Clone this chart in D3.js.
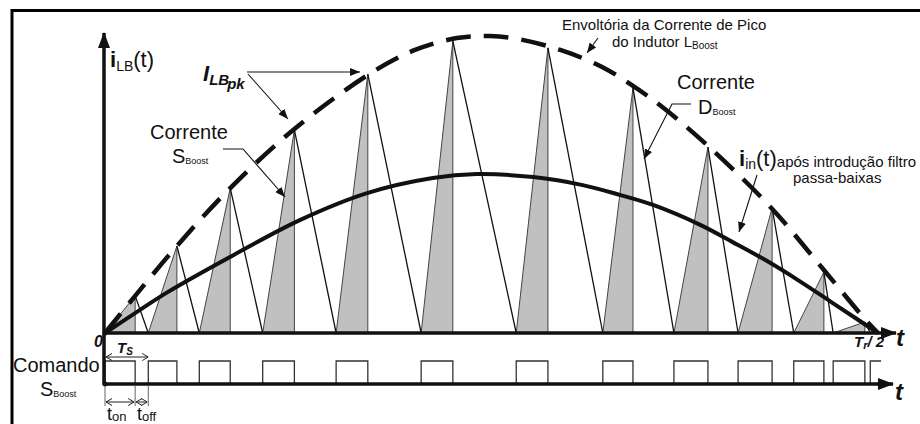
<!DOCTYPE html>
<html>
<head>
<meta charset="utf-8">
<script src="https://cdn.jsdelivr.net/npm/d3@7"></script>
<style>
  body { margin: 0; background: #fff; }
  svg { display: block; font-family: "Liberation Sans", Arial, sans-serif; }
</style>
</head>
<body>
<svg id="chart" width="920" height="424"></svg>
<script>
// time in % of the half mains period Tr/2, currents normalised to the envelope peak
const tOn   = [0, 5.6, 12.2, 20.4, 29.9, 40.9, 53.2, 64.4, 73.6, 81.9, 89.1, 94.2, 99.0];
const tOff  = [3.9, 9.3, 16.2, 24.5, 34.0, 45.0, 57.3, 68.3, 78.0, 86.3, 93.0, 98.3];
const iPeak = [0.125, 0.293, 0.488, 0.684, 0.872, 0.983, 0.960, 0.825, 0.626, 0.421, 0.205, 0.037];
const lastPulseEnd = 100.4;

// envelope of the inductor peak current (dashed)
const envT = [0, 3.9, 9.3, 16.2, 24.5, 34.2, 40.1, 45.5, 49.8, 53.4, 58.9, 64.3, 68.3, 72.1, 78.0, 86.2, 93.0, 98.4, 100];
const envI = [0, 0.125, 0.293, 0.488, 0.687, 0.872, 0.953, 0.993, 1.0, 0.990, 0.953, 0.896, 0.832, 0.761, 0.630, 0.421, 0.212, 0.044, 0];

// input current after the low-pass filter
const inT = [0, 3.9, 8.0, 16.6, 25.2, 33.9, 42.4, 48.1, 55.4, 61.8, 66.6, 70.9, 77.0, 81.2, 85.6, 89.9, 94.2, 100];
const inI = [0, 0.067, 0.136, 0.262, 0.380, 0.471, 0.522, 0.535, 0.525, 0.498, 0.465, 0.431, 0.364, 0.306, 0.243, 0.174, 0.100, 0];

const svg = d3.select('#chart');
const x = d3.scaleLinear().domain([0, 100]).range([105, 878]);
const y = d3.scaleLinear().domain([0, 1]).range([333, 36]);
const yCmd = d3.scaleLinear().domain([0, 1]).range([384, 361]);
const line = d3.line().x(d => x(d[0])).y(d => y(d[1]));
const smooth = d3.line().x(d => x(d[0])).y(d => y(d[1])).curve(d3.curveCatmullRom.alpha(0.5));

// markers
const defs = svg.append('defs');
defs.append('marker').attr('id', 'axisArrow')
    .attr('markerUnits', 'userSpaceOnUse')
    .attr('viewBox', '0 0 16 12').attr('refX', 15).attr('refY', 6)
    .attr('markerWidth', 16).attr('markerHeight', 12).attr('orient', 'auto')
    .append('path').attr('d', 'M0,0 L16,6 L0,12 Z').attr('fill', '#111');
defs.append('marker').attr('id', 'arrow')
    .attr('markerUnits', 'userSpaceOnUse')
    .attr('viewBox', '0 0 10 8').attr('refX', 10).attr('refY', 4)
    .attr('markerWidth', 10).attr('markerHeight', 8).attr('orient', 'auto')
    .append('path').attr('d', 'M0,0 L10,4 L0,8 Z').attr('fill', '#111');
defs.append('marker').attr('id', 'chev')
    .attr('markerUnits', 'userSpaceOnUse')
    .attr('viewBox', '0 0 6 8').attr('refX', 6).attr('refY', 4)
    .attr('markerWidth', 6).attr('markerHeight', 8).attr('orient', 'auto-start-reverse')
    .append('path').attr('d', 'M0,0.5 L6,4 L0,7.5').attr('fill', 'none').attr('stroke', '#222').attr('stroke-width', 1);

// frame
svg.append('path').attr('d', 'M12,424 L12,10.5 L920,10.5')
    .attr('fill', 'none').attr('stroke', '#000').attr('stroke-width', 3);

// shaded S_Boost current triangles
const periods = tOff.map((t, k) => ({ on: tOn[k], off: t, pk: iPeak[k], next: tOn[k + 1] }));
svg.append('g').selectAll('path').data(periods).join('path')
    .attr('d', d => line([[d.on, 0], [d.off, d.pk], [d.off, 0]]) + 'Z')
    .attr('fill', '#c0c0c0').attr('stroke', '#444').attr('stroke-width', 1);
// D_Boost falling slopes
svg.append('g').selectAll('path').data(periods).join('path')
    .attr('d', d => line([[d.off, d.pk], [d.next, 0]]))
    .attr('fill', 'none').attr('stroke', '#111').attr('stroke-width', 1.3);

// envelope and filtered current
svg.append('path')
    .attr('d', smooth(envT.map((t, i) => [t, envI[i]])))
    .attr('fill', 'none').attr('stroke', '#111').attr('stroke-width', 4.5)
    .attr('stroke-dasharray', '25 13');
svg.append('path')
    .attr('d', smooth(inT.map((t, i) => [t, inI[i]])))
    .attr('fill', 'none').attr('stroke', '#111').attr('stroke-width', 4);

// gate command
const cmd = [];
periods.forEach(d => cmd.push([d.on, 0], [d.on, 1], [d.off, 1], [d.off, 0]));
cmd.push([tOn[tOn.length - 1], 0], [tOn[tOn.length - 1], 1], [lastPulseEnd, 1]);
svg.append('path')
    .attr('d', d3.line().x(d => x(d[0])).y(d => yCmd(d[1]))(cmd))
    .attr('fill', 'none').attr('stroke', '#333').attr('stroke-width', 1.3);

// axes
svg.append('line').attr('x1', x(0)).attr('y1', y(0)).attr('x2', 896).attr('y2', y(0))
    .attr('stroke', '#111').attr('stroke-width', 3.5).attr('marker-end', 'url(#axisArrow)');
svg.append('line').attr('x1', x(0)).attr('y1', yCmd(0)).attr('x2', 893).attr('y2', yCmd(0))
    .attr('stroke', '#111').attr('stroke-width', 3.5).attr('marker-end', 'url(#axisArrow)');
svg.append('line').attr('x1', 104).attr('y1', yCmd(0) + 1).attr('x2', 104).attr('y2', 33)
    .attr('stroke', '#111').attr('stroke-width', 3.5).attr('marker-end', 'url(#axisArrow)');
svg.append('circle').attr('cx', 105).attr('cy', y(0)).attr('r', 2.5).attr('fill', '#111');
svg.append('circle').attr('cx', 105).attr('cy', yCmd(0)).attr('r', 2.5).attr('fill', '#111');

// dimension lines Ts, ton, toff
svg.append('line').attr('x1', x(tOn[0]) + 1).attr('x2', x(tOn[1])).attr('y1', 357).attr('y2', 357)
    .attr('stroke', '#222').attr('stroke-width', 1)
    .attr('marker-start', 'url(#chev)').attr('marker-end', 'url(#chev)');
[tOn[0], tOff[0], tOn[1]].forEach(t => {
    svg.append('line').attr('x1', x(t)).attr('x2', x(t)).attr('y1', 386).attr('y2', 406)
        .attr('stroke', '#666').attr('stroke-width', 1);
});
[[tOn[0], tOff[0]], [tOff[0], tOn[1]]].forEach(([a, b]) => {
    svg.append('line').attr('x1', x(a) + 1).attr('x2', x(b) - 1).attr('y1', 402).attr('y2', 402)
        .attr('stroke', '#222').attr('stroke-width', 1)
        .attr('marker-start', 'url(#chev)').attr('marker-end', 'url(#chev)');
});

// leader lines
const leader = pts => svg.append('path').attr('d', d3.line()(pts))
    .attr('fill', 'none').attr('stroke', '#111').attr('stroke-width', 1.1)
    .attr('marker-end', 'url(#arrow)');
leader([[247, 72], [360, 72]]);
leader([[248, 74], [288, 119]]);
leader([[223, 149], [243, 149], [285, 197]]);
leader([[691, 104], [672, 104], [644, 159]]);
leader([[598, 38], [587, 53]]);
leader([[757, 175], [739, 232]]);

// text
function rich(px, py, parts) {
    const t = svg.append('text').attr('x', px).attr('y', py).attr('fill', '#111');
    parts.forEach(p => {
        t.append('tspan')
            .attr('font-size', p.s)
            .attr('dy', p.dy || 0)
            .attr('dx', p.dx || 0)
            .attr('font-weight', p.b ? 'bold' : null)
            .attr('font-style', p.i ? 'italic' : null)
            .text(p.t);
    });
    return t;
}
rich(110, 67, [{ t: 'i', s: 22, b: 1 }, { t: 'LB', s: 14, dy: 4 }, { t: '(t)', s: 22, dy: -4 }]);
rich(203, 81, [{ t: 'I', s: 22, b: 1, i: 1 }, { t: 'LB', s: 15, b: 1, i: 1, dy: 4 }, { t: 'pk', s: 15, b: 1, i: 1, dy: 4, dx: -2 }]);
rich(150, 139, [{ t: 'Corrente', s: 20 }]);
rich(172, 163, [{ t: 'S', s: 20 }, { t: 'Boost', s: 9, dy: 1 }]);
rich(562, 30, [{ t: 'Envoltória da Corrente de Pico', s: 15 }]);
rich(612, 47, [{ t: 'do Indutor L', s: 15 }, { t: 'Boost', s: 10, dy: 2 }]);
rich(677, 89, [{ t: 'Corrente', s: 20 }]);
rich(698, 114, [{ t: 'D', s: 20 }, { t: 'Boost', s: 9, dy: 1 }]);
rich(739, 166, [{ t: 'i', s: 22, b: 1 }, { t: 'in', s: 14, dy: 3 }, { t: '(t)', s: 22, dy: -3 }, { t: 'após introdução filtro', s: 15, dy: 1 }]);
rich(793, 183, [{ t: 'passa-baixas', s: 15 }]);
rich(94, 347, [{ t: '0', s: 16, b: 1, i: 1 }]);
rich(117, 353, [{ t: 'T', s: 15, b: 1, i: 1 }, { t: 'S', s: 10, b: 1, i: 1, dy: 2 }]);
rich(13, 372, [{ t: 'Comando', s: 20 }]);
rich(40, 396, [{ t: 'S', s: 20 }, { t: 'Boost', s: 9, dy: 1 }]);
rich(107, 420, [{ t: 't', s: 18 }, { t: 'on', s: 13, dy: 1 }]);
rich(137, 420, [{ t: 't', s: 18 }, { t: 'off', s: 13, dy: 1 }]);
rich(854, 347, [{ t: 'T', s: 15, b: 1, i: 1 }, { t: 'r', s: 11, b: 1, i: 1, dy: 2 }, { t: '/ 2', s: 15, b: 1, i: 1, dy: -2 }]);
rich(896, 346, [{ t: 't', s: 24, b: 1, i: 1 }]);
rich(895, 400, [{ t: 't', s: 24, b: 1, i: 1 }]);
</script>
</body>
</html>
